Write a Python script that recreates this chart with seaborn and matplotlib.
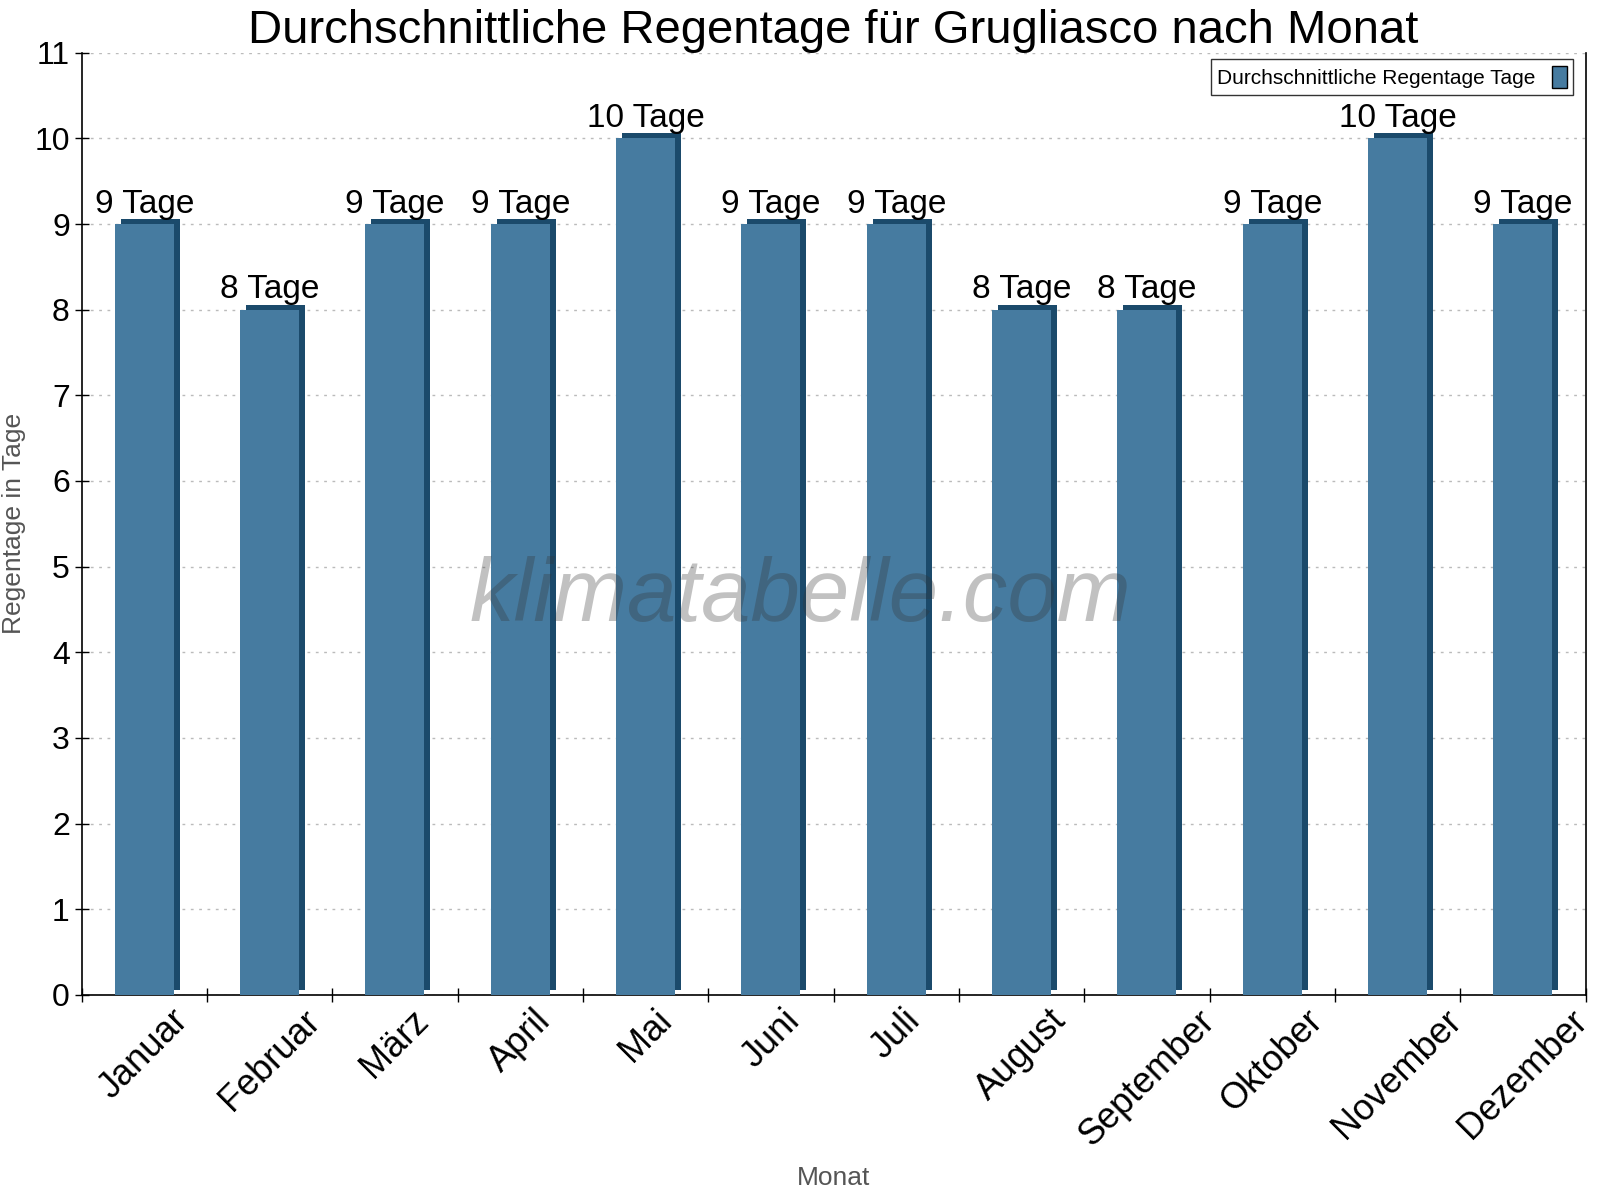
import matplotlib
matplotlib.use("Agg")
import matplotlib.pyplot as plt
import matplotlib.transforms as mtransforms
import seaborn as sns
import pandas as pd

months = ["Januar", "Februar", "März", "April", "Mai", "Juni",
          "Juli", "August", "September", "Oktober", "November", "Dezember"]
rain_days = [9, 8, 9, 9, 10, 9, 9, 8, 8, 9, 10, 9]
bar_labels = [f"{v} Tage" for v in rain_days]
y_ticks = list(range(0, 12))

df = pd.DataFrame({"Monat": months, "Tage": rain_days})

sns.set_style("ticks")
plt.rcParams["font.family"] = ["Liberation Sans", "DejaVu Sans"]
plt.rcParams["text.color"] = "black"
plt.rcParams["xtick.color"] = "black"
plt.rcParams["ytick.color"] = "black"

front = "#467BA0"
side = "#1B4A6B"

fig = plt.figure(figsize=(16, 12), dpi=100)
ax = fig.add_axes([0.051, 0.171, 0.94, 0.785])

# dark copy shifted right/up gives the 3D edge
shadow = mtransforms.offset_copy(ax.transData, fig=fig, x=6, y=5, units="dots")
sns.barplot(data=df, x="Monat", y="Tage", color=side, width=0.47,
            saturation=1, ax=ax, linewidth=0)
for p in ax.patches:
    p.set_transform(shadow)
    p.set_zorder(2)
n_shadow = len(ax.patches)
sns.barplot(data=df, x="Monat", y="Tage", color=front, width=0.47,
            saturation=1, ax=ax, linewidth=0,
            label="Durchschnittliche Regentage Tage")
for p in ax.patches[n_shadow:]:
    p.set_zorder(3)

for i, (v, lab) in enumerate(zip(rain_days, bar_labels)):
    ax.text(i, v + 0.05, lab, ha="center", va="bottom", fontsize=24,
            color="black", zorder=5)

ax.set_xlim(-0.5, len(months) - 0.5)
ax.set_ylim(0, 11)
ax.set_yticks(y_ticks)
ax.tick_params(axis="y", labelsize=23, direction="inout", length=10,
               width=1, colors="black")
ax.set_xticks(range(len(months)))
ax.set_xticklabels(months, rotation=45, ha="center", fontsize=26)
ax.tick_params(axis="x", which="major", length=0, pad=6)
ax.set_xticks([i - 0.5 for i in range(len(months) + 1)], minor=True)
ax.tick_params(axis="x", which="minor", bottom=True, direction="inout",
               length=10, width=1, color="black")

ax.yaxis.grid(True, linestyle=(0, (2, 4)), color="#bbbbbb", linewidth=1)
ax.set_axisbelow(True)

for s in ["left", "bottom", "right"]:
    ax.spines[s].set_visible(True)
    ax.spines[s].set_color("black")
    ax.spines[s].set_linewidth(1.2)
ax.spines["top"].set_visible(False)

ax.set_xlabel("Monat", fontsize=19, color="#555555", labelpad=10)
ax.set_ylabel("Regentage in Tage", fontsize=19, color="#555555", labelpad=6)
ax.set_title("Durchschnittliche Regentage für Grugliasco nach Monat",
             fontsize=34, pad=4, color="black")

handles, labels = ax.get_legend_handles_labels()
leg = ax.legend(handles[-1:], labels[-1:], loc="upper right", markerfirst=False,
                fontsize=15, frameon=True, fancybox=False, edgecolor="black",
                handlelength=0.7, handleheight=1.3, borderpad=0.3,
                bbox_to_anchor=(0.9985, 1.004))
leg.get_frame().set_linewidth(1)
for h in leg.legend_handles:
    h.set_edgecolor("black")
    h.set_linewidth(1)

fig.text(0.5, 0.502, "klimatabelle.com", fontsize=64, style="italic",
         color="#333333", alpha=0.3, ha="center", va="center", zorder=10)

fig.savefig("out.png", dpi=100)
